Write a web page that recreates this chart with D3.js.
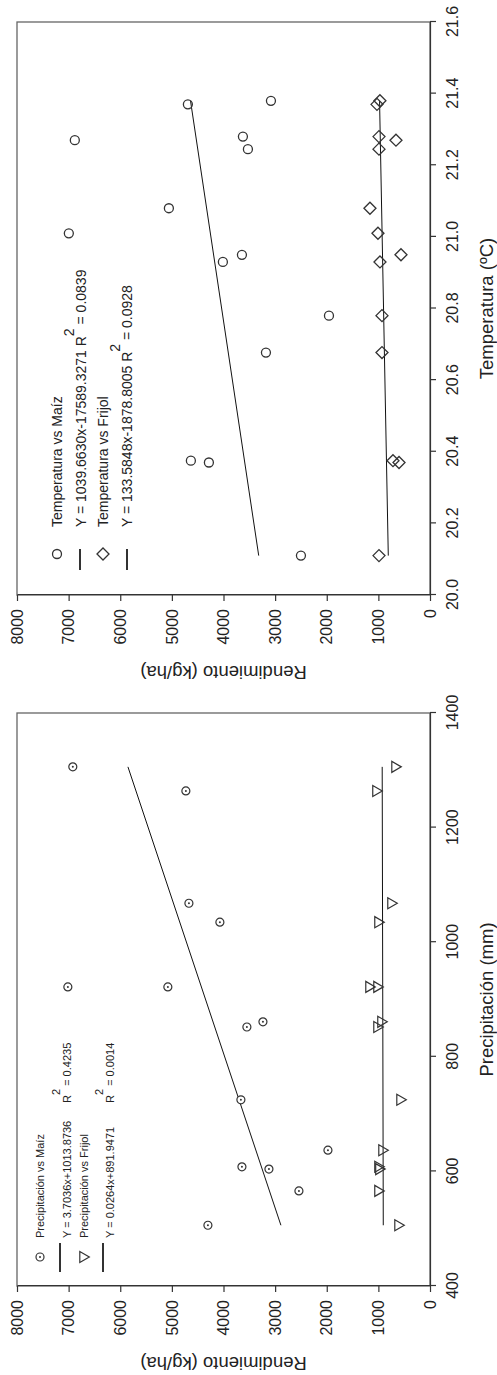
<!DOCTYPE html>
<html lang="es">
<head>
<meta charset="UTF-8">
<title>Rendimiento vs Precipitación y Temperatura</title>
<script src="https://d3js.org/d3.v7.min.js"></script>
<style>
  body { margin: 0; background: #fff; }
  svg { display: block; font-family: "Liberation Sans", Arial, sans-serif; }
  .tick text { font-size: 16px; fill: #222; }
  .tick line, .domain { stroke: #333; stroke-width: 1.2; }
</style>
</head>
<body>
<svg id="chart" width="497" height="1375"></svg>
<script>
// --- data ---
const precipitation = [506, 566, 604, 608, 637, 725, 852, 861, 922, 922, 1035, 1068, 1264, 1306];
const maizPrec      = [4302, 2539, 3120, 3643, 1977, 3663, 3547, 3236, 5078, 7015, 4070, 4670, 4729, 6919];
const frijolPrec    = [620, 1008, 990, 1008, 930, 581, 1027, 950, 1182, 1027, 1008, 756, 1047, 678];

const temperature = [20.11, 20.37, 20.375, 20.677, 20.78, 20.93, 20.95, 21.01, 21.08, 21.245, 21.27, 21.28, 21.37, 21.38];
const maizTemp    = [2500, 4283, 4632, 3178, 1957, 4012, 3643, 6996, 5058, 3527, 6880, 3624, 4690, 3081];
const frijolTemp  = [988, 600, 717, 930, 930, 969, 562, 1008, 1163, 988, 659, 988, 1027, 970];

// regression line end points
const fitMaizPrec   = [[506, 2888], [1306, 5851]];
const fitFrijolPrec = [[506, 905], [1306, 926]];
const fitMaizTemp   = [[20.11, 3318], [21.38, 4639]];
const fitFrijolTemp = [[20.11, 808], [21.38, 977]];

const yTicks    = [0, 1000, 2000, 3000, 4000, 5000, 6000, 7000, 8000];
const precTicks = [400, 600, 800, 1000, 1200, 1400];
const tempTicks = [20.0, 20.2, 20.4, 20.6, 20.8, 21.0, 21.2, 21.4, 21.6];

// whole figure is drawn landscape and turned a quarter turn
const svg = d3.select("#chart");
const root = svg.append("g").attr("transform", "translate(0,1375) rotate(-90)");

const yR = d3.scaleLinear().domain([0, 8000]).range([430, 17]);
const xP = d3.scaleLinear().domain([400, 1400]).range([89, 662]);
const xT = d3.scaleLinear().domain([20.0, 21.6]).range([780, 1353]);

const diamond = "M0,-6L6,0L0,6L-6,0Z";
const triangle = "M-5.5,-3.2L5.5,-3.2L0,6.3Z";

function panel(x, xTicks, xFmt, xTitle) {
  const g = root.append("g");
  const [x0, x1] = x.range();
  g.append("rect")
    .attr("x", x0).attr("y", 17).attr("width", x1 - x0).attr("height", 413)
    .attr("fill", "none").attr("stroke", "#666").attr("stroke-width", 1.3);

  g.append("g").attr("transform", "translate(0,430)")
    .call(d3.axisBottom(x).tickValues(xTicks).tickFormat(xFmt).tickSizeInner(6).tickSizeOuter(0).tickPadding(11));
  g.append("g").attr("transform", `translate(${x0},0)`)
    .call(d3.axisLeft(yR).tickValues(yTicks).tickFormat(d3.format("d")).tickSizeInner(6).tickSizeOuter(0).tickPadding(8));

  g.append("text").attr("x", (x0 + x1) / 2).attr("y", 493)
    .attr("text-anchor", "middle").attr("font-size", 18.5).attr("fill", "#222").text(xTitle);
  g.append("text")
    .attr("transform", `translate(${x0 - 71},223.5) rotate(-90)`)
    .attr("text-anchor", "middle").attr("font-size", 18.5).attr("fill", "#222")
    .text("Rendimiento (kg/ha)");
  return g;
}

function fitLine(g, x, pts) {
  g.append("path")
    .attr("d", d3.line().x(d => x(d[0])).y(d => yR(d[1]))(pts))
    .attr("fill", "none").attr("stroke", "#111").attr("stroke-width", 1);
}

// ---------- Precipitación panel ----------
const gP = panel(xP, precTicks, d3.format("d"), "Precipitación (mm)");
fitLine(gP, xP, fitMaizPrec);
fitLine(gP, xP, fitFrijolPrec);

const precM = gP.selectAll(".pm").data(precipitation).enter().append("g")
  .attr("transform", (d, i) => `translate(${xP(d)},${yR(maizPrec[i])})`);
precM.append("circle").attr("r", 4).attr("fill", "#fff").attr("stroke", "#333").attr("stroke-width", 1.2);
precM.append("circle").attr("r", 1).attr("fill", "#333");

gP.selectAll(".pf").data(precipitation).enter().append("path")
  .attr("d", triangle)
  .attr("transform", (d, i) => `translate(${xP(d)},${yR(frijolPrec[i])})`)
  .attr("fill", "none").attr("stroke", "#333").attr("stroke-width", 1.2);

// legend
const lp = gP.append("g").attr("font-size", 11).attr("fill", "#222");
lp.append("circle").attr("cx", 118).attr("cy", 40).attr("r", 4).attr("fill", "#fff").attr("stroke", "#333").attr("stroke-width", 1.2);
lp.append("circle").attr("cx", 118).attr("cy", 40).attr("r", 1).attr("fill", "#333");
lp.append("text").attr("x", 137).attr("y", 44).text("Precipitación vs Maíz");
lp.append("line").attr("x1", 103).attr("x2", 132).attr("y1", 60).attr("y2", 60).attr("stroke", "#333").attr("stroke-width", 2);
lp.append("text").attr("x", 137).attr("y", 71).text("Y = 3.7036x+1013.8736");
lp.append("path").attr("d", triangle).attr("transform", "translate(118,83)").attr("fill", "none").attr("stroke", "#333").attr("stroke-width", 1.2);
lp.append("text").attr("x", 137).attr("y", 88).text("Precipitación vs Frijol");
lp.append("line").attr("x1", 103).attr("x2", 132).attr("y1", 103).attr("y2", 103).attr("stroke", "#333").attr("stroke-width", 2);
lp.append("text").attr("x", 137).attr("y", 114).text("Y = 0.0264x+891.9471");

[["0.4235", 71], ["0.0014", 114]].forEach(([r2, y]) => {
  const t = lp.append("text").attr("x", 272).attr("y", y);
  t.append("tspan").text("R");
  t.append("tspan").attr("dy", -11).text("2");
  t.append("tspan").attr("dy", 11).text(" = " + r2);
});

// ---------- Temperatura panel ----------
const gT = panel(xT, tempTicks, d3.format(".1f"), "Temperatura (ºC)");
fitLine(gT, xT, fitMaizTemp);
fitLine(gT, xT, fitFrijolTemp);

gT.selectAll(".tm").data(temperature).enter().append("circle")
  .attr("cx", d => xT(d)).attr("cy", (d, i) => yR(maizTemp[i])).attr("r", 4.5)
  .attr("fill", "none").attr("stroke", "#333").attr("stroke-width", 1.3);

gT.selectAll(".tf").data(temperature).enter().append("path")
  .attr("d", diamond)
  .attr("transform", (d, i) => `translate(${xT(d)},${yR(frijolTemp[i])})`)
  .attr("fill", "none").attr("stroke", "#333").attr("stroke-width", 1.3);

// legend
const lt = gT.append("g").attr("font-size", 14).attr("fill", "#222");
lt.append("circle").attr("cx", 821).attr("cy", 57).attr("r", 4.5).attr("fill", "none").attr("stroke", "#333").attr("stroke-width", 1.3);
lt.append("text").attr("x", 848).attr("y", 62).text("Temperatura vs Maíz");
lt.append("line").attr("x1", 805).attr("x2", 826).attr("y1", 80).attr("y2", 80).attr("stroke", "#333").attr("stroke-width", 2);
lt.append("path").attr("d", diamond).attr("transform", "translate(821,103)").attr("fill", "none").attr("stroke", "#333").attr("stroke-width", 1.3);
lt.append("text").attr("x", 848).attr("y", 108).text("Temperatura vs Frijol");
lt.append("line").attr("x1", 805).attr("x2", 826).attr("y1", 127).attr("y2", 127).attr("stroke", "#333").attr("stroke-width", 2);

[["Y = 1039.6630x-17589.3271 ", "0.0839", 86], ["Y = 133.5848x-1878.8005 ", "0.0928", 132]].forEach(([eq, r2, y]) => {
  const t = lt.append("text").attr("x", 848).attr("y", y);
  t.append("tspan").text(eq + "R");
  t.append("tspan").attr("dy", -12).text("2");
  t.append("tspan").attr("dy", 12).text(" = " + r2);
});
</script>
</body>
</html>
